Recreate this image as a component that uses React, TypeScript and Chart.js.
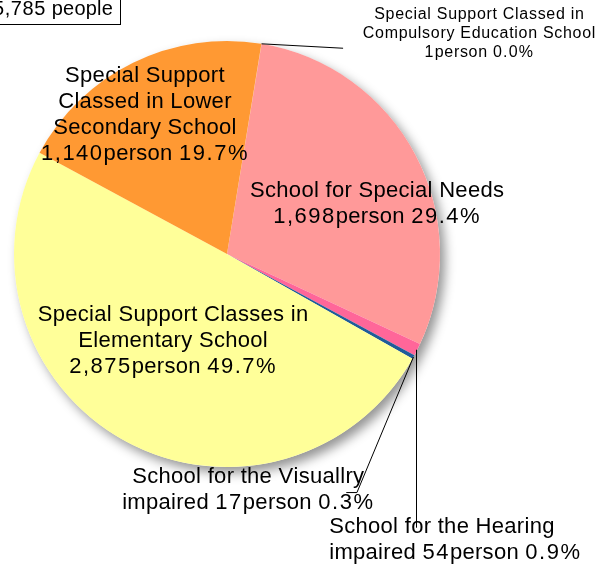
import React, { useEffect, useRef } from "react";
import { Chart, registerables } from "chart.js";

Chart.register(...registerables);

const categories = [
  "Special Support Classed in Compulsory Education School",
  "School for Special Needs",
  "School for the Hearing impaired",
  "School for the Visuallry impaired",
  "Special Support Classes in Elementary School",
  "Special Support Classed in Lower Secondary School",
];
const values = [1, 1698, 54, 17, 2875, 1140];
const percents = ["0.0%", "29.4%", "0.9%", "0.3%", "49.7%", "19.7%"];
const colors = ["#FF9966", "#FF9999", "#FF6699", "#1F5C99", "#FFFF99", "#FF9933"];
const totalLabel = "5,785 people";

const FONT = '"Liberation Sans", Arial, sans-serif';

function fmt(n: number) {
  return n.toLocaleString("en-US");
}

export default function App() {
  const ref = useRef<HTMLCanvasElement | null>(null);

  useEffect(() => {
    if (!ref.current) return;

    const shadowPlugin = {
      id: "pieShadow",
      beforeDatasetsDraw(chart: any) {
        const arc = chart.getDatasetMeta(0).data[0];
        if (!arc) return;
        const ctx = chart.ctx;
        ctx.save();
        ctx.shadowColor = "rgba(0,0,0,0.42)";
        ctx.shadowBlur = 11;
        ctx.shadowOffsetX = 5;
        ctx.shadowOffsetY = 6;
        ctx.fillStyle = "#ffffff";
        ctx.beginPath();
        ctx.arc(arc.x, arc.y, arc.outerRadius, 0, Math.PI * 2);
        ctx.fill();
        ctx.restore();
      },
    };

    const labelPlugin = {
      id: "pieLabels",
      afterDatasetsDraw(chart: any) {
        const meta = chart.getDatasetMeta(0);
        const arcs = meta.data;
        const ctx = chart.ctx;
        const c = arcs[0];
        const cx = c.x;
        const cy = c.y;
        const r = c.outerRadius;
        const edge = (i: number) => {
          const a = arcs[i];
          const mid = (a.startAngle + a.endAngle) / 2;
          return { x: cx + Math.cos(mid) * r, y: cy + Math.sin(mid) * r };
        };
        const P = (fx: number, fy: number) => ({ x: cx + fx * r, y: cy + fy * r });

        ctx.save();
        ctx.strokeStyle = "#000";
        ctx.lineWidth = 1;
        const e0 = edge(0);
        const t0 = P(0.545, -0.966);
        ctx.beginPath();
        ctx.moveTo(e0.x, e0.y);
        ctx.lineTo(t0.x, t0.y);
        ctx.stroke();

        const e3 = edge(3);
        const v1 = P(0.61, 1.12);
        const v2 = P(0.56, 1.12);
        ctx.beginPath();
        ctx.moveTo(e3.x, e3.y);
        ctx.lineTo(v1.x, v1.y);
        ctx.lineTo(v2.x, v2.y);
        ctx.stroke();

        const e2 = edge(2);
        ctx.beginPath();
        ctx.moveTo(Math.round(e2.x) - 0.5, e2.y);
        ctx.lineTo(Math.round(e2.x) - 0.5, cy + 1.285 * r);
        ctx.stroke();

        ctx.fillStyle = "#000";
        ctx.textBaseline = "middle";
        (ctx as any).letterSpacing = "0px";

        const isNum = (ch: string) => /[0-9,.%]/.test(ch);
        const lineWidth = (s: string, ls: number, nls: number) => {
          let w = 0;
          for (const ch of s) w += ctx.measureText(ch).width + (isNum(ch) ? nls : ls);
          return w;
        };
        const drawLine = (s: string, x: number, y: number, align: string, ls: number, nls: number) => {
          const w = lineWidth(s, ls, nls);
          let px = align === "center" ? x - w / 2 : align === "right" ? x - w : x;
          ctx.textAlign = "left";
          for (const ch of s) {
            ctx.fillText(ch, px, y);
            px += ctx.measureText(ch).width + (isNum(ch) ? nls : ls);
          }
        };
        const draw = (
          lines: string[],
          p: { x: number; y: number },
          size: number,
          lh: number,
          align: string,
          ls: number,
          nls: number
        ) => {
          ctx.font = `${size}px ${FONT}`;
          lines.forEach((ln, k) => drawLine(ln, p.x, p.y + k * lh, align, ls, nls));
        };
        const big = 22;
        const lh = 26;
        const ls = 0.3;
        const nls = 1.5;

        draw(
          ["Special Support", "Classed in Lower", "Secondary School", `${fmt(values[5])}person ${percents[5]}`],
          P(-0.385, -0.835), big, lh, "center", ls, nls
        );
        draw(["School for Special Needs", `${fmt(values[1])}person ${percents[1]}`], P(0.705, -0.295), big, lh, "center", ls, nls);
        draw(
          ["Special Support Classes in", "Elementary School", `${fmt(values[4])}person ${percents[4]}`],
          P(-0.253, 0.285), big, lh, "center", ls, nls
        );
        draw(["School for the Visuallry", `impaired ${values[3]}person ${percents[3]}`], P(0.1, 1.047), big, lh, "center", ls, nls);
        draw(["School for the Hearing", `impaired ${values[2]}person ${percents[2]}`], P(0.48, 1.283), big, lh, "left", ls, nls);
        draw(
          ["Special Support Classed in", "Compulsory Education School", `${values[0]}person ${percents[0]}`],
          P(1.185, -1.122), 16, 19, "center", 0.7, 1.2
        );

        // total box
        ctx.font = `20px ${FONT}`;
        drawLine(totalLabel, 113, 9.5, "right", 0.2, 0.6);
        ctx.strokeStyle = "#000";
        ctx.strokeRect(-5.5, -5.5, 126, 30);
        ctx.restore();
      },
    };

    const chart = new Chart(ref.current, {
      type: "pie",
      data: {
        labels: categories,
        datasets: [
          {
            data: values,
            backgroundColor: colors,
            borderWidth: 0,
          },
        ],
      },
      options: {
        animation: false,
        responsive: false,
        rotation: 9.3,
        layout: { padding: { left: 14, top: 41, right: 174, bottom: 100 } },
        plugins: {
          legend: { display: false },
          tooltip: { enabled: false },
          title: { display: false },
        },
      },
      plugins: [shadowPlugin, labelPlugin],
    });
    return () => chart.destroy();
  }, []);

  return (
    <div style={{ position: "fixed", left: 0, top: 0, width: 614, height: 567, background: "#fff" }}>
      <canvas ref={ref} width={614} height={567} style={{ display: "block", width: 614, height: 567 }} />
    </div>
  );
}
